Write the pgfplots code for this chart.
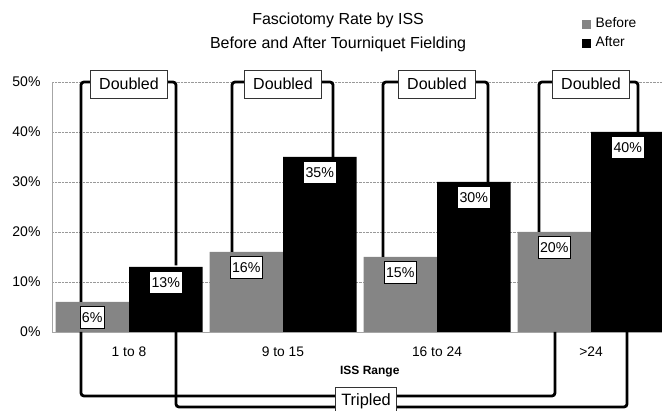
\documentclass[border=0pt]{standalone}
\usepackage{pgfplots}
\usepackage{pgfplotstable}
\pgfplotsset{compat=1.18}
\usepackage{fontspec}
\setmainfont{Liberation Sans}
\definecolor{bargray}{HTML}{858585}

\pgfplotstableread{
x before after
0 6 13
1 16 35
2 15 30
3 20 40
}\datatable

\tikzset{dbl/.style={fill=white, draw=black!80, line width=0.7pt, inner xsep=8.5pt, minimum height=28pt,
        font=\fontsize{16}{18}\selectfont}}

\begin{document}
\begin{tikzpicture}[x=1pt,y=1pt]
\useasboundingbox (0,0) rectangle (662,411);
\clip (0,0) rectangle (662,411);
\begin{axis}[
  at={(52pt,79pt)}, anchor=south west,
  scale only axis, width=610pt, height=250pt,
  xmin=-0.5, xmax=3.461, ymin=0, ymax=50,
  clip=false,
  axis x line=bottom, axis y line=left,
  axis line style={-, draw=gray!70, line width=0.8pt},
  ytick={0,10,...,50},
  yticklabel={\pgfmathprintnumber{\tick}\%},
  /pgf/number format/assume math mode=true,
  yticklabel style={xshift=-8pt, font=\fontsize{14}{15}\selectfont},
  xtick={0,1,2,3},
  xticklabels={1 to 8, 9 to 15, 16 to 24, >24},
  xticklabel style={yshift=-11pt, font=\fontsize{13.8}{15}\selectfont},
  major tick length=0pt,
  ymajorgrids,
  grid style={densely dotted, gray!80, line width=0.7pt},
  xlabel={\textbf{ISS Range}},
  xlabel style={at={(axis description cs:0.521,-0.16)}, anchor=center, font=\fontsize{12}{14}\selectfont},
  title={Fasciotomy Rate by ISS\\Before and After Tourniquet Fielding},
  title style={at={(axis description cs:0.469,1.176)}, anchor=center, align=center, font=\fontsize{16}{24}\selectfont},
  ybar=0pt, bar width=73.5pt,
  nodes near coords={\pgfmathprintnumber{\pgfplotspointmeta}\%},
  every node near coord/.append style={anchor=north, yshift=-4pt, fill=white, draw=black, line width=0.6pt,
     inner xsep=2pt, minimum height=22pt, font=\fontsize{14.2}{16}\selectfont},
  legend image code/.code={\fill[#1] (0pt,-4.5pt) rectangle (9pt,4.5pt);},
  legend style={at={(axis description cs:0.868,1.262)}, anchor=north west, draw=none, fill=none,
     font=\fontsize{13.8}{14}\selectfont, row sep=4pt, inner sep=0pt,
     nodes={inner sep=1pt, text height=10pt, text depth=3pt},
     /tikz/every odd column/.style={column sep=4pt},
     /tikz/every even column/.style={column sep=3pt}},
  legend cell align=left,
]
\addplot[fill=bargray, draw=none] table[x=x, y=before] {\datatable};
\addlegendentry{Before}
\addplot[fill=black, draw=none] table[x=x, y=after] {\datatable};
\addlegendentry{After}

% Doubled brackets
\draw[line width=2.8pt, rounded corners=3pt] (axis cs:-0.312,6) |- (axis cs:0.305,50) -- (axis cs:0.305,13.3);
\draw[line width=2.8pt, rounded corners=3pt] (axis cs:0.669,16) |- (axis cs:1.325,50) -- (axis cs:1.325,35);
\draw[line width=2.8pt, rounded corners=3pt] (axis cs:1.649,15) |- (axis cs:2.331,50) -- (axis cs:2.331,30);
\draw[line width=2.8pt, rounded corners=3pt] (axis cs:2.662,20) |- (axis cs:3.305,50) -- (axis cs:3.305,40);
\node[dbl] at (axis cs:0,49.6) {Doubled};
\node[dbl] at (axis cs:1,49.6) {Doubled};
\node[dbl] at (axis cs:2,49.6) {Doubled};
\node[dbl] at (axis cs:3,49.6) {Doubled};
% Tripled brackets
\draw[line width=2.8pt, rounded corners=3pt] (axis cs:-0.312,0) |- (axis cs:2.766,-12.8) -- (axis cs:2.766,0);
\draw[line width=2.8pt, rounded corners=3pt] (axis cs:0.305,0) |- (axis cs:3.234,-15) -- (axis cs:3.234,0);
\node[fill=white, draw=black!80, line width=0.7pt, inner xsep=5.5pt, minimum height=28pt,
      font=\fontsize{16.4}{18}\selectfont] at (axis cs:1.539,-13.9) {Tripled};
\end{axis}
\end{tikzpicture}
\end{document}
